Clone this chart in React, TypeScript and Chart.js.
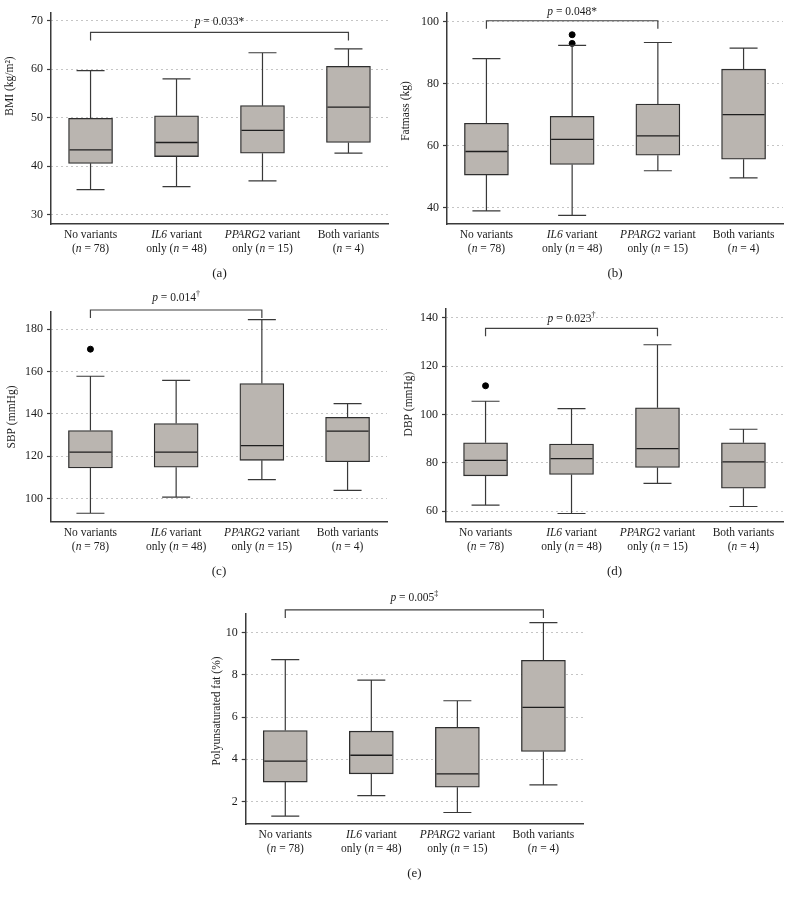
import React, { useEffect, useRef } from "react";
import { Chart, registerables } from "chart.js";

Chart.register(...registerables);

const FONT = '"Liberation Serif", "Times New Roman", serif';
const TEXT = "#1c1c1c";
const AXIS = "#3a3a3a";
const GRID = "#8a8a8a";
const BOX_FILL = "#bab5b0";
const BOX_EDGE = "#2e2e2e";
const WHISKER = "#383838";

// Category labels ("_" toggles italic)
const categoryLines: string[][] = [
  ["No variants", "(_n_ = 78)"],
  ["_IL6_ variant", "only (_n_ = 48)"],
  ["_PPARG_2 variant", "only (_n_ = 15)"],
  ["Both variants", "(_n_ = 4)"],
];
const categoryPositions = [1, 2, 3, 4];

// (a) BMI (kg/m²)
const bmiLow = [35.2, 35.8, 37.0, 42.7];
const bmiQ1 = [40.6, 42.0, 42.7, 44.9];
const bmiMedian = [43.4, 44.9, 47.4, 52.2];
const bmiQ3 = [49.9, 50.4, 52.5, 60.6];
const bmiHigh = [59.7, 58.0, 63.4, 64.2];
const bmiOutlierCats: number[] = [];
const bmiOutlierValues: number[] = [];
const bmiTicks = [30, 40, 50, 60, 70];

// (b) Fatmass (kg)
const fatLow = [39.0, 37.5, 51.9, 49.6];
const fatQ1 = [50.5, 53.9, 56.9, 55.6];
const fatMedian = [58.1, 62.0, 63.1, 70.0];
const fatQ3 = [67.2, 69.4, 73.4, 84.6];
const fatHigh = [88.0, 92.3, 93.2, 91.4];
const fatOutlierCats = [2, 2];
const fatOutlierValues = [95.7, 92.9];
const fatTicks = [40, 60, 80, 100];

// (c) SBP (mmHg)
const sbpLow = [93.1, 100.7, 109.0, 103.9];
const sbpQ1 = [114.5, 114.8, 118.1, 117.4];
const sbpMedian = [122.0, 122.0, 125.0, 131.9];
const sbpQ3 = [132.2, 135.5, 154.4, 138.4];
const sbpHigh = [157.8, 155.9, 184.6, 144.9];
const sbpOutlierCats = [1];
const sbpOutlierValues = [170.6];
const sbpTicks = [100, 120, 140, 160, 180];

// (d) DBP (mmHg)
const dbpLow = [62.5, 59.0, 71.5, 61.9];
const dbpQ1 = [74.6, 75.2, 78.1, 69.5];
const dbpMedian = [81.0, 81.7, 85.9, 80.4];
const dbpQ3 = [88.3, 87.8, 102.8, 88.3];
const dbpHigh = [105.5, 102.4, 128.9, 93.9];
const dbpOutlierCats = [1];
const dbpOutlierValues = [111.9];
const dbpTicks = [60, 80, 100, 120, 140];

// (e) Polyunsaturated fat (%)
const pufaLow = [1.31, 2.28, 1.48, 2.79];
const pufaQ1 = [2.92, 3.31, 2.68, 4.37];
const pufaMedian = [3.91, 4.19, 3.31, 6.46];
const pufaQ3 = [5.36, 5.33, 5.51, 8.68];
const pufaHigh = [8.72, 7.75, 6.77, 10.47];
const pufaOutlierCats: number[] = [];
const pufaOutlierValues: number[] = [];
const pufaTicks = [2, 4, 6, 8, 10];

type Frame = { x0: number; y0: number; w: number; h: number; L: number; T: number; R: number; B: number };
type Panel = {
  caption: string;
  yTitle: string;
  pText: string;
  low: number[];
  q1: number[];
  med: number[];
  q3: number[];
  high: number[];
  outCats: number[];
  outVals: number[];
  ticks: number[];
  yMin: number;
  yMax: number;
  bracketFrom: number;
  bracketTo: number;
  bracketValue: number;
  pGap: number;
  frame: Frame;
  titleX: number;
  titleY: number;
};

const panels: Panel[] = [
  {
    caption: "(a)", yTitle: "BMI (kg/m²)", pText: "_p_ = 0.033*",
    low: bmiLow, q1: bmiQ1, med: bmiMedian, q3: bmiQ3, high: bmiHigh,
    outCats: bmiOutlierCats, outVals: bmiOutlierValues, ticks: bmiTicks,
    yMin: 28.1, yMax: 71.6, bracketFrom: 1, bracketTo: 4, bracketValue: 67.6, pGap: 10,
    frame: { x0: 0, y0: 0, w: 396, h: 290, L: 51, T: 13, R: 388, B: 224 },
    titleX: 10, titleY: 86,
  },
  {
    caption: "(b)", yTitle: "Fatmass (kg)", pText: "_p_ = 0.048*",
    low: fatLow, q1: fatQ1, med: fatMedian, q3: fatQ3, high: fatHigh,
    outCats: fatOutlierCats, outVals: fatOutlierValues, ticks: fatTicks,
    yMin: 34.75, yMax: 102.7, bracketFrom: 1, bracketTo: 3, bracketValue: 100.2, pGap: 9,
    frame: { x0: 396, y0: 0, w: 396, h: 290, L: 447, T: 13, R: 783, B: 224 },
    titleX: 406, titleY: 111,
  },
  {
    caption: "(c)", yTitle: "SBP (mmHg)", pText: "_p_ = 0.014^†",
    low: sbpLow, q1: sbpQ1, med: sbpMedian, q3: sbpQ3, high: sbpHigh,
    outCats: sbpOutlierCats, outVals: sbpOutlierValues, ticks: sbpTicks,
    yMin: 89.1, yMax: 188.3, bracketFrom: 1, bracketTo: 3, bracketValue: 189.1, pGap: 12,
    frame: { x0: 0, y0: 275, w: 396, h: 315, L: 51, T: 311.7, R: 387, B: 521.7 },
    titleX: 12, titleY: 417,
  },
  {
    caption: "(d)", yTitle: "DBP (mmHg)", pText: "_p_ = 0.023^†",
    low: dbpLow, q1: dbpQ1, med: dbpMedian, q3: dbpQ3, high: dbpHigh,
    outCats: dbpOutlierCats, outVals: dbpOutlierValues, ticks: dbpTicks,
    yMin: 55.6, yMax: 143.7, bracketFrom: 1, bracketTo: 3, bracketValue: 135.7, pGap: 9,
    frame: { x0: 396, y0: 275, w: 396, h: 315, L: 446, T: 309, R: 783, B: 521.7 },
    titleX: 409, titleY: 404,
  },
  {
    caption: "(e)", yTitle: "Polyunsaturated fat (%)", pText: "_p_ = 0.005^‡",
    low: pufaLow, q1: pufaQ1, med: pufaMedian, q3: pufaQ3, high: pufaHigh,
    outCats: pufaOutlierCats, outVals: pufaOutlierValues, ticks: pufaTicks,
    yMin: 0.935, yMax: 10.91, bracketFrom: 1, bracketTo: 4, bracketValue: 11.07, pGap: 12,
    frame: { x0: 200, y0: 585, w: 400, h: 310, L: 245.7, T: 613.3, R: 583, B: 824 },
    titleX: 217, titleY: 711,
  },
];

type Seg = { t: string; it: boolean; sup: boolean };
function parseRich(s: string): Seg[] {
  const segs: Seg[] = [];
  let rest = s;
  let supText = "";
  const caret = s.indexOf("^");
  if (caret >= 0) {
    rest = s.slice(0, caret);
    supText = s.slice(caret + 1);
  }
  rest.split("_").forEach((t, i) => {
    if (t) segs.push({ t, it: i % 2 === 1, sup: false });
  });
  if (supText) segs.push({ t: supText, it: false, sup: true });
  return segs;
}

function drawRich(ctx: CanvasRenderingContext2D, s: string, cx: number, cy: number, size: number) {
  const segs = parseRich(s);
  const fontOf = (g: Seg) => `${g.it ? "italic " : ""}${g.sup ? size * 0.7 : size}px ${FONT}`;
  let total = 0;
  const widths = segs.map((g) => {
    ctx.font = fontOf(g);
    const w = ctx.measureText(g.t).width;
    total += w;
    return w;
  });
  let x = cx - total / 2;
  ctx.textBaseline = "middle";
  ctx.textAlign = "left";
  ctx.fillStyle = TEXT;
  segs.forEach((g, i) => {
    ctx.font = fontOf(g);
    ctx.fillText(g.t, x, g.sup ? cy - size * 0.35 : cy);
    x += widths[i];
  });
}

function BoxPanel({ p }: { p: Panel }) {
  const ref = useRef<HTMLCanvasElement>(null);
  useEffect(() => {
    const canvas = ref.current;
    if (!canvas) return;
    const f = p.frame;
    const leftW = f.L - f.x0;
    const topPad = f.T - f.y0;
    const rightPad = f.x0 + f.w - f.R;
    const bottomH = f.y0 + f.h - f.B;
    const BOX_W = 44;
    const CAP_W = 28;

    const extras = {
      id: "boxExtras",
      afterDatasetsDraw(chart: any) {
        const { ctx, scales } = chart;
        const xs = scales.x;
        const ys = scales.y;
        ctx.save();
        ctx.strokeStyle = WHISKER;
        ctx.lineWidth = 1.2;
        categoryPositions.forEach((c, i) => {
          const xc = xs.getPixelForValue(c);
          const yHi = ys.getPixelForValue(p.high[i]);
          const yQ3 = ys.getPixelForValue(p.q3[i]);
          const yQ1 = ys.getPixelForValue(p.q1[i]);
          const yLo = ys.getPixelForValue(p.low[i]);
          ctx.beginPath();
          ctx.moveTo(xc, yQ3);
          ctx.lineTo(xc, yHi);
          ctx.moveTo(xc - CAP_W / 2, yHi);
          ctx.lineTo(xc + CAP_W / 2, yHi);
          ctx.moveTo(xc, yQ1);
          ctx.lineTo(xc, yLo);
          ctx.moveTo(xc - CAP_W / 2, yLo);
          ctx.lineTo(xc + CAP_W / 2, yLo);
          ctx.stroke();
        });
        ctx.strokeStyle = "#1e1e1e";
        ctx.lineWidth = 1.3;
        categoryPositions.forEach((c, i) => {
          const xc = xs.getPixelForValue(c);
          const ym = ys.getPixelForValue(p.med[i]);
          ctx.beginPath();
          ctx.moveTo(xc - BOX_W / 2 + 1, ym);
          ctx.lineTo(xc + BOX_W / 2 - 1, ym);
          ctx.stroke();
        });
        ctx.restore();
      },
      afterDraw(chart: any) {
        const { ctx, scales, chartArea } = chart;
        const xs = scales.x;
        const ys = scales.y;
        ctx.save();
        const bx1 = xs.getPixelForValue(p.bracketFrom);
        const bx2 = xs.getPixelForValue(p.bracketTo);
        const by = ys.getPixelForValue(p.bracketValue);
        ctx.strokeStyle = "#404040";
        ctx.lineWidth = 1.2;
        ctx.beginPath();
        ctx.moveTo(bx1, by + 8);
        ctx.lineTo(bx1, by);
        ctx.lineTo(bx2, by);
        ctx.lineTo(bx2, by + 8);
        ctx.stroke();
        drawRich(ctx, p.pText, (bx1 + bx2) / 2, by - p.pGap, 11.5);
        categoryPositions.forEach((c, i) => {
          const xc = xs.getPixelForValue(c);
          drawRich(ctx, categoryLines[i][0], xc, chartArea.bottom + 11, 11.5);
          drawRich(ctx, categoryLines[i][1], xc, chartArea.bottom + 25, 11.5);
        });
        drawRich(ctx, p.caption, (chartArea.left + chartArea.right) / 2, chartArea.bottom + 50, 13);
        ctx.translate(p.titleX - f.x0, p.titleY - f.y0);
        ctx.rotate(-Math.PI / 2);
        drawRich(ctx, p.yTitle, 0, 0, 11.5);
        ctx.restore();
      },
    };

    const chart = new Chart(canvas, {
      type: "bar",
      data: {
        datasets: [
          {
            type: "bar",
            data: categoryPositions.map((c, i) => ({ x: c, y: [p.q1[i], p.q3[i]] })) as any,
            backgroundColor: BOX_FILL,
            borderColor: BOX_EDGE,
            borderWidth: 1.3,
            borderSkipped: false,
            barThickness: BOX_W,
          },
          {
            type: "scatter",
            data: p.outCats.map((c, i) => ({ x: c, y: p.outVals[i] })),
            pointRadius: 3,
            pointHoverRadius: 3,
            backgroundColor: "#000",
            borderColor: "#000",
            showLine: false,
          } as any,
        ],
      },
      options: {
        responsive: false,
        animation: false,
        devicePixelRatio: 1,
        layout: { padding: { top: topPad, right: rightPad, left: 0, bottom: 0 } },
        plugins: { legend: { display: false }, tooltip: { enabled: false }, title: { display: false } },
        scales: {
          x: {
            type: "linear",
            min: 0.54,
            max: 4.46,
            offset: false,
            grid: { display: false },
            ticks: { display: false },
            border: { display: true, color: AXIS, width: 1.5 },
            afterFit: (s: any) => {
              s.height = bottomH;
            },
          },
          y: {
            type: "linear",
            min: p.yMin,
            max: p.yMax,
            afterBuildTicks: (s: any) => {
              s.ticks = p.ticks.map((v) => ({ value: v }));
            },
            ticks: {
              font: { family: FONT, size: 12 },
              color: TEXT,
              padding: 4,
              callback: (v: any) => String(v),
            },
            grid: {
              color: GRID,
              lineWidth: 1,
              drawTicks: true,
              tickLength: 4,
              tickColor: AXIS,
              tickWidth: 1.2,
            },
            border: { display: true, color: AXIS, width: 1.5, dash: [1, 4] },
            afterFit: (s: any) => {
              s.width = leftW;
            },
          },
        },
      } as any,
      plugins: [extras],
    });
    return () => chart.destroy();
  }, [p]);
  return (
    <canvas
      ref={ref}
      width={p.frame.w}
      height={p.frame.h}
      style={{ position: "absolute", left: p.frame.x0, top: p.frame.y0, width: p.frame.w, height: p.frame.h }}
    />
  );
}

export default function App() {
  return (
    <div style={{ position: "absolute", left: 0, top: 0, width: 792, height: 900, background: "#fff", overflow: "hidden" }}>
      {panels.map((p) => (
        <BoxPanel key={p.caption} p={p} />
      ))}
    </div>
  );
}
